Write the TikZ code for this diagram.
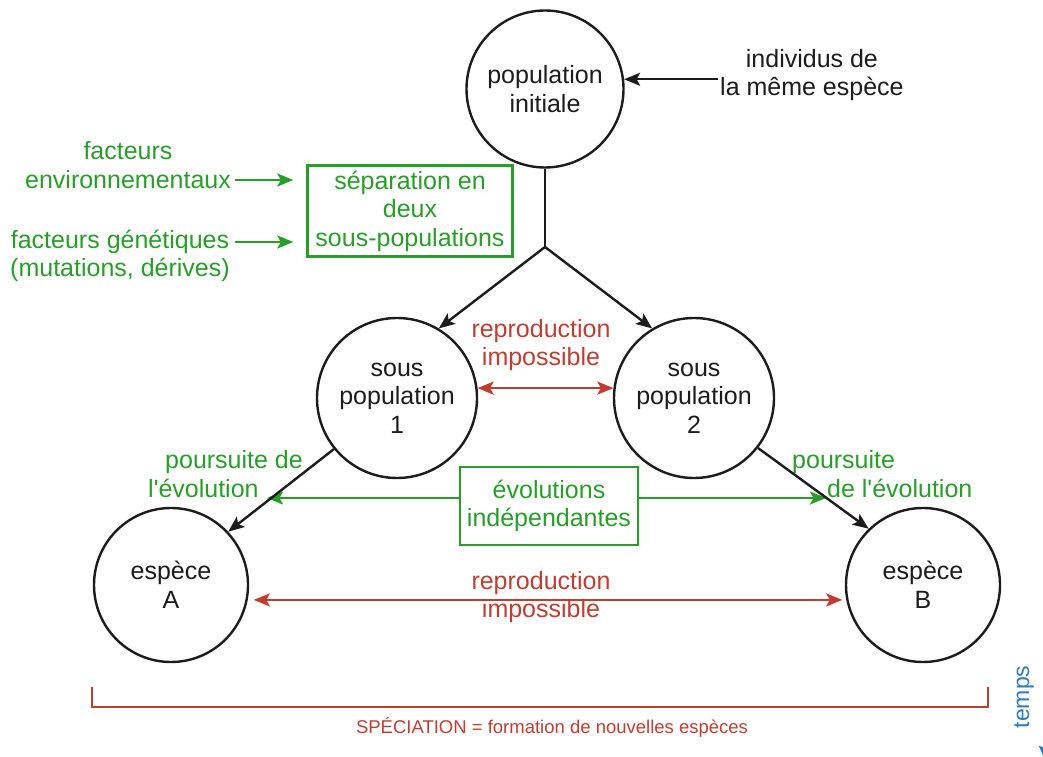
\documentclass[tikz,border=0pt]{standalone}
\usepackage{fontspec}
\setmainfont{Liberation Sans}
\usetikzlibrary{arrows.meta}
\definecolor{vert}{RGB}{40,158,40}
\definecolor{rouge}{RGB}{192,62,48}
\definecolor{bleu}{RGB}{45,122,190}
\definecolor{encre}{RGB}{28,28,28}
\begin{document}
\begin{tikzpicture}[x=1pt,y=1pt,
  txt/.style={font=\fontsize{25}{28.5}\selectfont, align=center, inner sep=2pt},
  cercle/.style={txt, circle, draw=encre, line width=2.4pt, inner sep=0pt, text=encre},
  boite/.style={txt, draw=vert, line width=2.4pt, text=vert, inner sep=0pt},
  tete/.style={-{Stealth[length=16pt,width=13pt,inset=3.5pt]}},
  noir/.style={tete, draw=encre, line width=2.4pt},
  fvert/.style={tete, draw=vert, fill=vert, line width=2.4pt},
  frouge/.style={{Stealth[length=16pt,width=13pt,inset=3.5pt]}-{Stealth[length=16pt,width=13pt,inset=3.5pt]}, draw=rouge, line width=2.4pt}
]
\useasboundingbox (0,0) rectangle (1043,756);
\clip (0,0) rectangle (1043,756);

% circles
\node[cercle, minimum size=157pt] (pi) at (545,667) {population\\initiale};
\node[cercle, minimum size=160pt] (sp1) at (397,358) {sous\\population\\1};
\node[cercle, minimum size=160pt] (sp2) at (694,358) {sous\\population\\2};
\node[cercle, minimum size=154pt] (ea) at (171,171) {espèce\\A};
\node[cercle, minimum size=154pt] (eb) at (923,171) {espèce\\B};

% top right
\node[txt, text=encre, anchor=west] (ind) at (718,681) {individus de\\la même espèce};
\draw[noir] (ind.west |- pi.7) -- (pi.7);

% split
\coordinate (jn) at (545,509);
\draw[encre, line width=2.4pt] (pi.south) -- (jn);
\draw[noir] (jn) -- (sp1.59);
\draw[noir] (jn) -- (sp2.121);

% reproduction impossible 1
\node[txt, text=rouge] (r1) at (541,411) {reproduction\\impossible};
\draw[frouge] (sp1.7) -- (sp2.173);

% separation box + factors
\node[boite, minimum width=205pt, minimum height=91pt] (sep) at (410,545) {séparation en\\deux\\sous-populations};
\node[txt, text=vert] (fe) at (128,591) {facteurs\\environnementaux};
\node[txt, text=vert] (fg) at (120,500) {facteurs génétiques\\(mutations, dérives)};
\coordinate (fe1) at (235,576);
\coordinate (fg1) at (235,514);
\draw[fvert] (fe1) -- ([xshift=-13pt]sep.west |- fe1);
\draw[fvert] (fg1) -- ([xshift=-13pt]sep.west |- fg1);

% evolution
\node[boite, minimum width=178pt, minimum height=78pt] (evo) at (549,250) {évolutions\\indépendantes};
\coordinate (gl) at (267,258);
\coordinate (gr) at (826,258);
\draw[fvert] (evo.west |- gl) -- (gl);
\draw[fvert] (evo.east |- gr) -- (gr);
\node[txt, text=vert, align=left, anchor=west] (pg) at (146,282) {\hspace{17pt}poursuite de\\l\textquotesingle évolution};
\node[txt, text=vert, align=left, anchor=west] (pd) at (790,282) {poursuite\\\hspace{35pt}de l\textquotesingle évolution};

% to species
\draw[noir] (sp1.219) -- (ea.43);
\draw[noir] (sp2.322) -- (eb.134);

% reproduction impossible 2
\node[txt, text=rouge] (r2) at (541,159) {reproduction\\impossible};
\draw[frouge, shorten <=6pt, shorten >=4pt] (ea.-11) -- (eb.191);

% bracket
\coordinate (b1) at (92,69);
\coordinate (b2) at (92,49);
\coordinate (b3) at (988,49);
\coordinate (b4) at (988,69);
\draw[rouge, line width=1.8pt] (b1) -- (b2) -- (b3) -- (b4);
\node[font=\fontsize{18.5}{20}\selectfont, text=rouge, inner sep=0pt] (spec) at (552,29) {SPÉCIATION = formation de nouvelles espèces};

% time
\node[font=\fontsize{23}{26}\selectfont, text=bleu, rotate=90, inner sep=0pt] (temps) at (1024,59) {temps};
\coordinate (t1) at (1045,40);
\coordinate (t2) at (1045,-4);
\draw[bleu, line width=2.4pt, -{Stealth[length=14pt,width=12pt,inset=2pt]}] (t1) -- (t2);
\end{tikzpicture}
\end{document}
